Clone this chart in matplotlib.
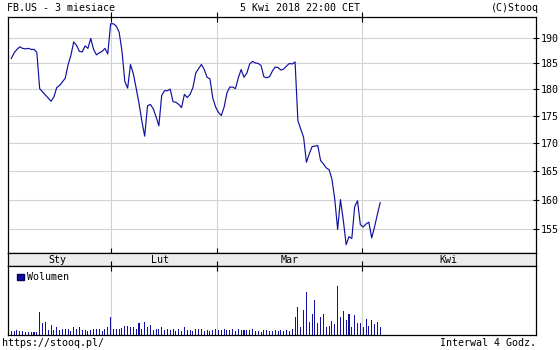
import matplotlib
matplotlib.use("Agg")
import matplotlib.pyplot as plt
from matplotlib.patches import Rectangle
from matplotlib.ticker import FixedLocator, NullLocator, FixedFormatter

# %% dane: FB.US, interwal 4h, indeks = kolejna swieca
price = [
    186.0, 187.1, 187.8, 188.3, 188.0, 187.9, 188.0, 187.8, 187.8, 187.2,
    180.1, 179.5, 178.9, 178.3, 177.7, 178.5, 180.3, 180.7, 181.4, 182.1,
    184.7, 186.6, 189.3, 188.6, 187.4, 187.3, 188.5, 188.0, 190.0, 187.8,
    186.7, 187.1, 187.4, 188.0, 186.9, 193.0, 193.0, 192.5, 191.3, 187.5,
    181.5, 180.2, 184.8, 183.0, 180.2, 177.3, 174.0, 171.2, 176.8, 177.1,
    176.3, 174.8, 173.1, 178.8, 179.7, 179.7, 180.0, 177.6, 177.5, 177.1,
    176.5, 179.0, 178.4, 179.0, 180.3, 183.1, 184.0, 184.8, 183.8, 182.3,
    182.0, 178.3, 176.6, 175.6, 175.0, 176.6, 179.3, 180.4, 180.4, 180.1,
    182.2, 183.8, 182.3, 183.1, 184.9, 185.4, 185.1, 185.0, 184.6, 182.4,
    182.2, 182.4, 183.5, 184.3, 184.2, 183.7, 183.9, 184.5, 185.0, 184.9,
    185.3, 174.0, 172.5, 171.0, 166.5, 168.0, 169.3, 169.4, 169.5, 166.8,
    166.2, 165.5, 165.2, 163.5, 160.0, 155.0, 160.0, 156.5, 152.5, 153.8,
    153.5, 158.8, 159.8, 155.8, 155.4, 155.9, 156.2, 153.6, 155.4, 157.5,
    159.5,
]

# wolumen w mln szt.
volume = [
    3.2, 2.8, 3.8, 2.8, 3.2, 2.5, 2.5, 2.0, 2.5, 2.5,
    17.0, 8.8, 9.5, 4.0, 7.8, 4.0, 5.8, 3.8, 4.5, 4.5,
    4.5, 3.2, 5.8, 4.5, 6.2, 3.8, 3.8, 3.2, 3.8, 4.5,
    4.5, 4.5, 2.8, 4.5, 5.8, 13.8, 4.5, 4.5, 4.5, 5.0,
    7.0, 7.0, 5.8, 6.2, 4.5, 8.8, 4.5, 9.5, 5.8, 7.8,
    4.0, 4.5, 4.5, 6.2, 3.8, 4.5, 3.8, 4.5, 3.2, 4.5,
    3.2, 6.2, 3.8, 4.0, 3.2, 4.5, 4.5, 4.5, 2.8, 3.8,
    2.8, 3.8, 4.5, 3.8, 3.8, 4.5, 3.8, 3.8, 4.5, 2.8,
    4.5, 3.8, 3.8, 3.8, 3.8, 4.5, 3.2, 3.2, 2.0, 3.8,
    3.8, 3.2, 2.8, 3.8, 3.2, 3.8, 2.8, 3.8, 3.2, 4.5,
    13.8, 21.2, 6.2, 18.8, 32.5, 10.0, 16.2, 26.5, 8.8, 13.8,
    16.2, 5.8, 7.0, 10.8, 8.2, 37.0, 13.8, 18.2, 11.2, 16.2,
    5.8, 15.2, 8.8, 9.0, 5.8, 12.0, 7.0, 11.2, 8.2, 9.5,
    5.8,
]

price_ticks = [155, 160, 165, 170, 175, 180, 185, 190]
months = ["Sty", "Lut", "Mar", "Kwi"]
month_start = [35.2, 72.5, 123.5]      # granice miesiecy (indeks swiecy)
month_mid = [16.1, 52.4, 98.0, 154.0]  # srodki podpisow

# %% wyglad
blue = "#1010a0"
grid_c = "#d2d2d2"
mono = "DejaVu Sans Mono"
fs = 7.2
W, H = 560, 350
xlim = (-1.16, 184.9)


def box(x0, y0, x1, y1):
    return [x0 / W, 1 - y1 / H, (x1 - x0) / W, (y1 - y0) / H]


fig = plt.figure(figsize=(5.6, 3.5), dpi=100)
fig.patch.set_facecolor("white")

ax = fig.add_axes(box(8, 16.5, 536, 253.3))
strip = fig.add_axes(box(8, 253.3, 536, 266))
vax = fig.add_axes(box(8, 266, 536, 335))

# %% wykres ceny
x = list(range(len(price)))
ax.plot(x, price, color=blue, lw=0.85)
ax.set_yscale("log")
ax.set_ylim(151.1, 194.5)
ax.set_xlim(*xlim)
ax.yaxis.set_major_locator(FixedLocator(price_ticks))
ax.yaxis.set_major_formatter(FixedFormatter([str(t) for t in price_ticks]))
ax.yaxis.set_minor_locator(NullLocator())
ax.yaxis.tick_right()
ax.tick_params(axis="y", direction="inout", length=5, width=0.8, pad=1,
               labelsize=fs, labelfontfamily=mono)
ax.xaxis.set_major_locator(FixedLocator(month_start))
ax.tick_params(axis="x", direction="inout", length=7, width=0.8,
               top=True, bottom=True, labelbottom=False)
ax.grid(True, color=grid_c, lw=0.8)
ax.set_axisbelow(True)

# %% pasek miesiecy
strip.set_facecolor("#ececec")
strip.set_xlim(*xlim)
strip.set_ylim(0, 1)
strip.set_xticks([])
strip.set_yticks([])
for m, pos in zip(months, month_mid):
    strip.text(pos, 0.5, m, ha="center", va="center", fontsize=fs,
               family=mono)

# %% wolumen
vax.bar(x, volume, width=0.36, color=blue, linewidth=0, antialiased=False)
vax.set_xlim(*xlim)
vax.set_ylim(0, 52)
vax.set_yticks([])
vax.xaxis.set_major_locator(FixedLocator(month_start))
vax.tick_params(axis="x", direction="inout", length=7, width=0.8,
                top=True, bottom=False, labelbottom=False)
vax.grid(True, axis="x", color=grid_c, lw=0.8)
vax.set_axisbelow(True)
vax.legend(handles=[Rectangle((0, 0), 1, 1, facecolor=blue, edgecolor="#000060")],
           labels=["Wolumen"], loc="upper left", bbox_to_anchor=(0.008, 0.98),
           frameon=False, borderpad=0, handlelength=0.65, handleheight=0.65,
           handletextpad=0.3, prop={"family": mono, "size": fs})

for a in (ax, strip, vax):
    for s in a.spines.values():
        s.set_color("black")
        s.set_linewidth(0.9)

# %% napisy
fig.text(7 / W, 1 - 7.7 / H, "FB.US - 3 miesiace", ha="left", va="center",
         fontsize=fs, family=mono)
fig.text(300 / W, 1 - 7.7 / H, "5 Kwi 2018 22:00 CET", ha="center", va="center",
         fontsize=fs, family=mono)
fig.text(538.5 / W, 1 - 7.7 / H, "(C)Stooq", ha="right", va="center",
         fontsize=fs, family=mono)
fig.text(2 / W, 1 - 343.3 / H, "https://stooq.pl/", ha="left", va="center",
         fontsize=fs, family=mono)
fig.text(536 / W, 1 - 343.3 / H, "Interwal 4 Godz.", ha="right", va="center",
         fontsize=fs, family=mono)

fig.savefig("out.png", dpi=100)
